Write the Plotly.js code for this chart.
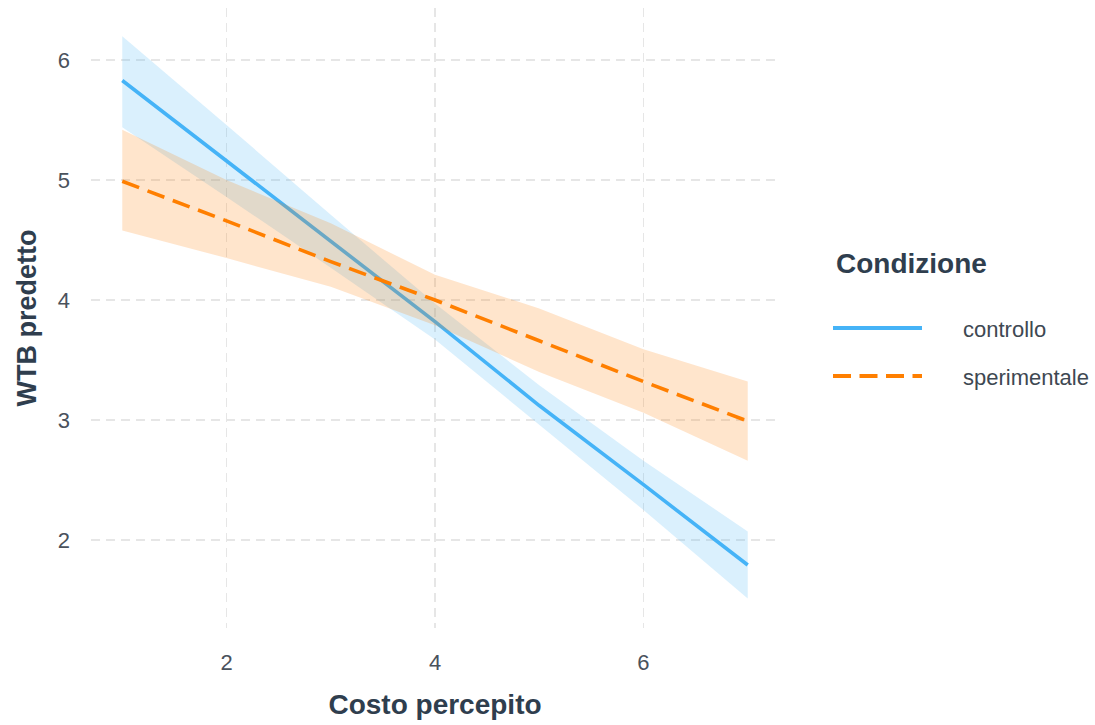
<!DOCTYPE html>
<html>
<head>
<meta charset="utf-8">
<script src="https://cdn.plot.ly/plotly-3.0.1.min.js"></script>
<style>html,body{margin:0;padding:0;background:#fff;}#chart{width:1095px;height:725px;}</style>
</head>
<body>
<div id="chart"></div>
<script>
// Data
const costo = [1, 2, 3, 4, 5, 6, 7];
const controlloFit  = [5.83, 5.16, 4.49, 3.82, 3.12, 2.46, 1.79];
const controlloLow  = [5.44, 4.86, 4.27, 3.67, 2.96, 2.25, 1.51];
const controlloHigh = [6.20, 5.46, 4.71, 3.97, 3.29, 2.66, 2.07];
const sperFit  = [4.99, 4.66, 4.32, 4.00, 3.66, 3.32, 2.99];
const sperLow  = [4.58, 4.35, 4.11, 3.79, 3.40, 3.06, 2.66];
const sperHigh = [5.42, 5.00, 4.64, 4.21, 3.93, 3.59, 3.32];
const groups = ["controllo", "sperimentale"];
const xTicks = [2, 4, 6];
const yTicks = [2, 3, 4, 5, 6];

const blue = "#45b3f7";
const orange = "#ff7f00";
const FONT = "Liberation Sans, Arial, sans-serif";

function band(x, lo, hi, color) {
  return {
    x: x.concat(x.slice().reverse()),
    y: hi.concat(lo.slice().reverse()),
    fill: "toself", fillcolor: color, mode: "lines",
    line: {width: 0}, hoverinfo: "skip", showlegend: false
  };
}

const traces = [
  band(costo, controlloLow, controlloHigh, "rgba(69,179,247,0.2)"),
  {x: costo, y: controlloFit, mode: "lines", name: groups[0],
   line: {color: blue, width: 3.6}, showlegend: false},
  band(costo, sperLow, sperHigh, "rgba(255,127,0,0.2)"),
  {x: costo, y: sperFit, mode: "lines", name: groups[1],
   line: {color: orange, width: 3.6, dash: "18px,9px"}, showlegend: false}
];

const L = 91, R = 316, T = 8, B = 97, W = 1095, H = 725;
const pw = W - L - R, ph = H - T - B;
const px = v => (v - L) / pw;          // pixel -> paper x
const py = v => (H - B - v) / ph;      // pixel -> paper y

const gridStyle = {showgrid: true, gridcolor: "#e6e6e6", gridwidth: 1.4, griddash: "9px,6px",
                   zeroline: false, showline: false, ticks: "",
                   tickfont: {family: FONT, size: 22, color: "#4a525c"}};

const titleFont = {family: FONT, size: 28, color: "#2f3e4e", weight: "bold"};

const layout = {
  width: W, height: H,
  margin: {l: L, r: R, t: T, b: B},
  paper_bgcolor: "#fff", plot_bgcolor: "#fff",
  showlegend: false,
  xaxis: Object.assign({}, gridStyle, {
    range: [0.7, 7.3], tickvals: xTicks, ticktext: xTicks.map(String),
    ticklabelstandoff: 19,
    title: {text: "Costo percepito", font: titleFont, standoff: 20}
  }),
  yaxis: Object.assign({}, gridStyle, {
    range: [1.265, 6.435], tickvals: yTicks, ticktext: yTicks.map(String),
    ticklabelstandoff: 20,
    title: {text: "WTB predetto", font: Object.assign({}, titleFont, {size: 27}), standoff: 13}
  }),
  shapes: [
    {type: "line", xref: "paper", yref: "paper", x0: px(833), x1: px(922), y0: py(328), y1: py(328),
     line: {color: blue, width: 4.2}},
    {type: "line", xref: "paper", yref: "paper", x0: px(833), x1: px(922), y0: py(376), y1: py(376),
     line: {color: orange, width: 4.2, dash: "18px,8.5px"}}
  ],
  annotations: [
    {text: "<b>Condizione</b>", xref: "paper", yref: "paper", x: px(834), y: py(263),
     xanchor: "left", yanchor: "middle", showarrow: false,
     font: {family: FONT, size: 28, color: "#2f3e4e"}},
    {text: groups[0], xref: "paper", yref: "paper", x: px(961), y: py(330),
     xanchor: "left", yanchor: "middle", showarrow: false,
     font: {family: FONT, size: 22, color: "#3e4852"}},
    {text: groups[1], xref: "paper", yref: "paper", x: px(961), y: py(377),
     xanchor: "left", yanchor: "middle", showarrow: false,
     font: {family: FONT, size: 22, color: "#3e4852"}}
  ]
};

Plotly.newPlot("chart", traces, layout, {displayModeBar: false, staticPlot: true});
</script>
</body>
</html>
